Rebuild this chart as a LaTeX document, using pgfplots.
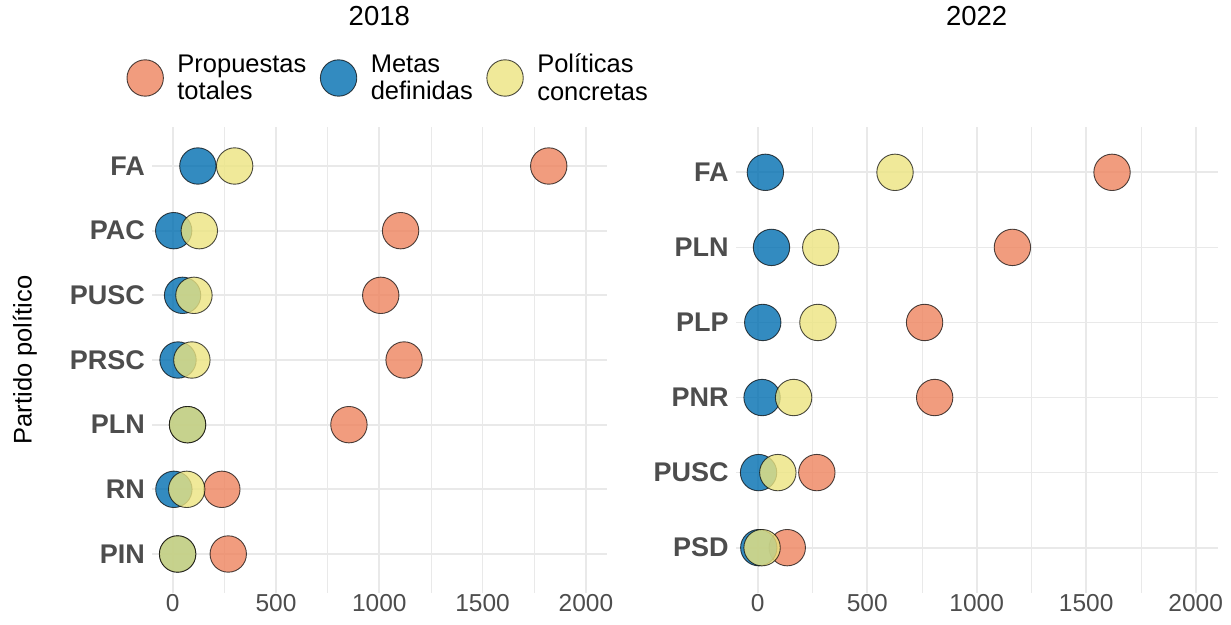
\documentclass[border=0pt]{standalone}
\usepackage{fontspec}
\setmainfont{Liberation Sans}
\usepackage{pgfplots}
\pgfplotsset{compat=1.18}
\definecolor{cOr}{RGB}{238,131,94}
\definecolor{cBl}{RGB}{0,110,176}
\definecolor{cYe}{RGB}{236,228,128}
\definecolor{gridc}{RGB}{233,233,233}
\definecolor{tk}{RGB}{77,77,77}
\pgfplotsset{
  panel/.style={
    scale only axis, clip=false,
    xmin=-100, xmax=2100,
    xtick={0,500,1000,1500,2000},
    minor xtick={250,750,1250,1750},
    grid=both,
    major grid style={draw=gridc, line width=1.7pt},
    minor grid style={draw=gridc, line width=0.9pt},
    axis line style={draw=none},
    tick style={draw=none},
    major tick length=0pt, minor tick length=0pt,
    /pgf/number format/assume math mode=true,
    /pgf/number format/1000 sep={},
    xticklabel style={font=\fontsize{24.5}{28}\selectfont, text=tk, inner sep=0pt, anchor=north, yshift=-1pt},
    yticklabel style={font=\fontsize{27}{30}\selectfont\bfseries, text=tk, inner sep=0pt, anchor=east, xshift=-7pt},
    title style={font=\fontsize{27.5}{30}\selectfont, anchor=base, inner sep=0pt},
    legend image code/.code={\draw[##1] plot coordinates {(19pt,0pt)};},
  },
  sOr/.style={only marks, mark=*, mark size=18.2pt, line width=0.9pt, draw=black, draw opacity=0.7, fill=cOr, fill opacity=0.8},
  sBl/.style={only marks, mark=*, mark size=18.2pt, line width=0.9pt, draw=black, draw opacity=0.7, fill=cBl, fill opacity=0.8},
  sYe/.style={only marks, mark=*, mark size=18.2pt, line width=0.9pt, draw=black, draw opacity=0.7, fill=cYe, fill opacity=0.8},
}
\begin{document}
\begin{tikzpicture}
\path[use as bounding box] (0,0) rectangle (1231pt,624pt);
% 2018
\begin{axis}[panel,
  at={(152pt,31.2pt)}, anchor=south west,
  width=454.6pt, height=465.6pt,
  ymin=0.4, ymax=7.6,
  ytick={1,2,3,4,5,6,7},
  yticklabels={PIN,RN,PLN,PRSC,PUSC,PAC,FA},
  title={2018},
  title style={at={(axis description cs:0.5,1.2051)}},
  ylabel={Partido político},
  ylabel style={at={(axis description cs:-0.2646,0.5)}, anchor=base, inner sep=0pt, font=\fontsize{25.5}{28}\selectfont},
  legend style={draw=none, fill=none, inner sep=0pt, outer sep=0pt,
    at={(axis description cs:-0.055,1.1057)}, anchor=west,
    font=\fontsize{25.5}{27.5}\selectfont,
    cells={align=left},
    nodes={inner sep=0pt},
    /tikz/every odd column/.append style={column sep=14pt},
    /tikz/every even column/.append style={column sep=14pt}},
  legend columns=3,
]
\addplot[sOr] coordinates {(1820,7) (1103,6) (1007,5) (1120,4) (853,3) (238,2) (269,1)};
\addlegendentry{Propuestas\\totales}
\addplot[sBl] coordinates {(122,7) (5,6) (48,5) (26,4) (72,3) (6,2) (24,1)};
\addlegendentry{Metas\\definidas}
\addplot[sYe] coordinates {(300,7) (129,6) (103,5) (93,4) (72,3) (68,2) (24,1)};
\addlegendentry{Políticas\\concretas}
\end{axis}
% 2022
\begin{axis}[panel,
  at={(735.8pt,31.3pt)}, anchor=south west,
  width=481.8pt, height=465.4pt,
  ymin=0.4, ymax=6.6,
  ytick={1,2,3,4,5,6},
  yticklabels={PSD,PUSC,PNR,PLP,PLN,FA},
  title={2022},
  title style={at={(axis description cs:0.5,1.2054)}},
]
\addplot[sOr] coordinates {(1618,6) (1163,5) (762,4) (808,3) (270,2) (135,1)};
\addplot[sBl] coordinates {(35,6) (63,5) (23,4) (20,3) (4,2) (5,1)};
\addplot[sYe] coordinates {(627,6) (288,5) (275,4) (164,3) (92,2) (20,1)};
\end{axis}
\end{tikzpicture}
\end{document}
